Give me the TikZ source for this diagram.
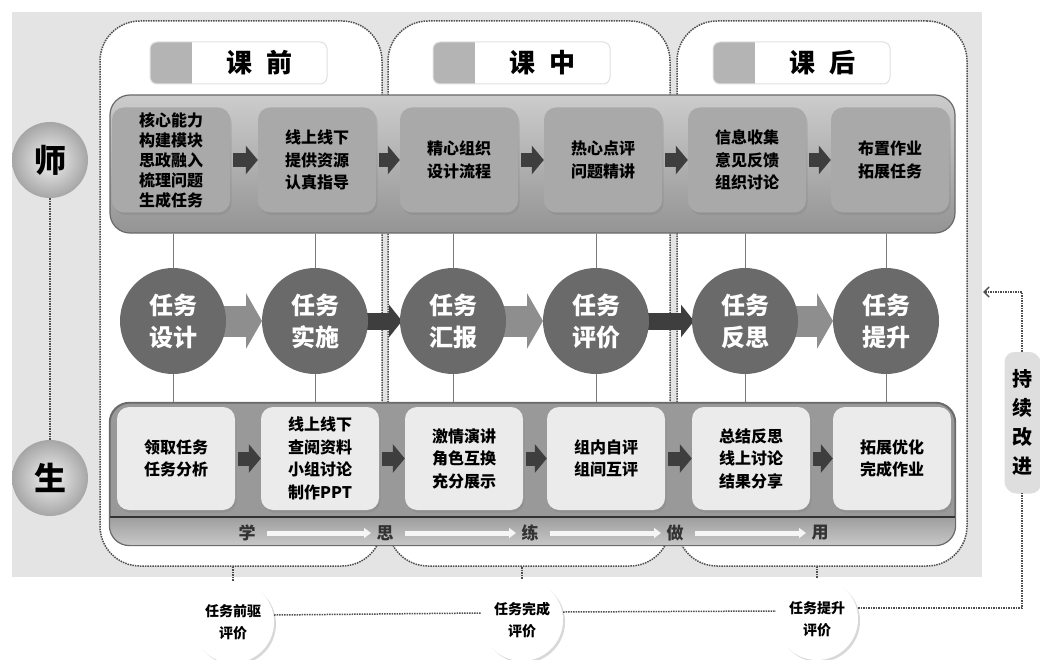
\documentclass[tikz,border=0pt]{standalone}
\usepackage{fontspec}
\setmainfont{Noto Sans CJK SC}
\usetikzlibrary{arrows.meta,shadows}
\definecolor{bg}{HTML}{E4E4E4}
\definecolor{dotc}{HTML}{4E4E4E}
\definecolor{tabgray}{HTML}{B4B4B4}
\definecolor{tboxc}{HTML}{A9A9A9}
\definecolor{sboxc}{HTML}{EBEBEB}
\definecolor{taskcc}{HTML}{6A6A6A}
\definecolor{lightarr}{HTML}{8E8E8E}
\definecolor{darkarr}{HTML}{3E3E3E}
\definecolor{vline}{HTML}{7A7A7A}
\definecolor{bandline}{HTML}{6A6A6A}
\begin{document}
\begin{tikzpicture}[x=1pt,y=-1pt,
  phase/.style={draw=dotc, densely dotted, line width=1.5pt, fill=white, rounded corners=40, inner sep=0},
  tbox/.style={fill=tboxc, rounded corners=12, minimum width=118, minimum height=105, align=center,
    font=\bfseries\fontsize{16}{22.5}\selectfont, inner sep=2pt,
    drop shadow={shadow xshift=1.5pt, shadow yshift=-2.5pt, opacity=.3}},
  sbox/.style={tbox, fill=sboxc, minimum height=103},
  taskc/.style={circle, fill=taskcc, minimum size=106, inner sep=0, text=white, align=center,
    font=\bfseries\fontsize{24}{32}\selectfont},
  rolec/.style={circle, minimum size=76, inner sep=0, shading=radial, inner color=white!95!black, outer color=black!35,
    font=\bfseries\fontsize{32}{36}\selectfont},
  evalc/.style={circle, fill=white, minimum size=82, inner sep=0, align=center,
    font=\bfseries\fontsize{14}{22}\selectfont,
    drop shadow={shadow xshift=2pt, shadow yshift=-2pt, opacity=.3}},
  impc/.style={fill=black!13, rounded corners=10, minimum width=35, minimum height=140, inner sep=0, align=center,
    font=\bfseries\fontsize{20}{29}\selectfont,
    drop shadow={shadow xshift=1.5pt, shadow yshift=-1.5pt, opacity=.25}},
  dotl/.style={draw=dotc, densely dotted, line width=1.5pt},
  barrow/.style={draw=darkarr, line width=14pt, -{Triangle[length=12pt,width=28pt]}, shorten <=3pt},
  larrow/.style={draw=lightarr, line width=31pt, -{Triangle[length=16pt,width=55pt]}},
  darrow/.style={draw=darkarr, line width=17pt, -{Triangle[length=13pt,width=32pt]}},
  warrow/.style={draw=white!96!black, line width=5pt, -{Triangle[length=7pt,width=10pt]}},
  striplab/.style={font=\bfseries\fontsize{17}{20}\selectfont, text=black!80, inner sep=1pt},
  tabtext/.style={font=\bfseries\fontsize{26}{30}\selectfont, inner sep=0}
]
\useasboundingbox (0,0) rectangle (1040,660);
\fill[white] (0,0) rectangle (1040,660);
\fill[bg] (12,12) rectangle (982,577);

% phase frames
\node[phase, minimum width=282, minimum height=545] (pA) at (241,293.5) {};
\node[phase, minimum width=282, minimum height=545] (pB) at (529,293.5) {};
\node[phase, minimum width=290, minimum height=545] (pC) at (822,293.5) {};

% header tabs
\foreach \xa/\xb/\xg/\nm/\txt in {150/327/192/h1/{课\hspace{14pt}前}, 433/610/475/h2/{课\hspace{14pt}中}, 713/890/755/h3/{课\hspace{14pt}后}}{
  \begin{scope}
    \clip[rounded corners=7] (\xa,42) rectangle (\xb,84);
    \fill[white] (\xa,42) rectangle (\xb,84);
    \fill[tabgray] (\xa,42) rectangle (\xg,84);
  \end{scope}
  \draw[black!12, line width=1pt, rounded corners=7] (\xa,42) rectangle (\xb,84);
  \node[tabtext] (\nm) at ({(\xg+\xb)/2},63) {\txt};
}

% teacher band
\node[draw=bandline, line width=1.2pt, rounded corners=20, minimum width=845, minimum height=138, inner sep=0,
  top color=black!20, middle color=black!24, bottom color=black!42] (tb) at (532.5,164) {};
% student band
\node[draw=bandline, line width=1.2pt, rounded corners=20, minimum width=845, minimum height=142, inner sep=0,
  top color=black!40, middle color=black!28, bottom color=black!40] (sb) at (532.5,474) {};
\begin{scope}
  \clip[rounded corners=20] (sb.north west) rectangle (sb.south east);
  \fill[top color=black!38, bottom color=black!22] (110,517) rectangle (955,545);
\end{scope}
\draw[black!80, line width=2.5pt] (110,517) -- (955,517);
\draw[bandline, line width=1.2pt, rounded corners=20] (sb.north west) rectangle (sb.south east);

% teacher boxes
\node[tbox, font=\bfseries\fontsize{16}{20}\selectfont] (t1) at (171,160) {核心能力\\构建模块\\思政融入\\梳理问题\\生成任务};
\node[tbox] (t2) at (317,160) {线上线下\\提供资源\\认真指导};
\node[tbox] (t3) at (459,160) {精心组织\\设计流程};
\node[tbox] (t4) at (603,160) {热心点评\\问题精讲};
\node[tbox] (t5) at (747,160) {信息收集\\意见反馈\\组织讨论};
\node[tbox] (t6) at (890,160) {布置作业\\拓展任务};
\foreach \a/\b in {t1/t2,t2/t3,t3/t4,t4/t5,t5/t6}{\draw[barrow] (\a.east) -- (\b.west);}

% student boxes
\node[sbox] (s1) at (176,458.5) {领取任务\\任务分析};
\node[sbox] (s2) at (320,458.5) {线上线下\\查阅资料\\小组讨论\\制作PPT};
\node[sbox] (s3) at (464,458.5) {激情演讲\\角色互换\\充分展示};
\node[sbox] (s4) at (606,458.5) {组内自评\\组间互评};
\node[sbox] (s5) at (751,458.5) {总结反思\\线上讨论\\结果分享};
\node[sbox] (s6) at (892,458.5) {拓展优化\\完成作业};
\foreach \a/\b in {s1/s2,s2/s3,s3/s4,s4/s5,s5/s6}{\draw[barrow] (\a.east) -- (\b.west);}

% strip labels
\node[striplab] (l1) at (247,533) {学};
\node[striplab] (l2) at (385,533) {思};
\node[striplab] (l3) at (530,533) {练};
\node[striplab] (l4) at (675,533) {做};
\node[striplab] (l5) at (820,533) {用};
\foreach \a/\b in {l1/l2,l2/l3,l3/l4,l4/l5}{\draw[warrow, shorten <=20pt, shorten >=14pt] (\a.center) -- (\b.center);}

% task circles (coordinates first for lines)
\coordinate (k1) at (173,321);
\coordinate (k2) at (315,321);
\coordinate (k3) at (453,321);
\coordinate (k4) at (596,321);
\coordinate (k5) at (745,321);
\coordinate (k6) at (886,321);
\foreach \k in {k1,k2,k3,k4,k5,k6}{\draw[vline, line width=1pt] (\k |- tb.south) -- (\k |- sb.north);}
\draw[larrow] (k1) -- ([xshift=-53pt]k2);
\draw[darrow] (k2) -- ([xshift=-51pt]k3);
\draw[larrow] (k3) -- ([xshift=-53pt]k4);
\draw[darrow] (k4) -- ([xshift=-51pt]k5);
\draw[larrow] (k5) -- ([xshift=-53pt]k6);
\node[taskc] (c1) at (k1) {任务\\设计};
\node[taskc] (c2) at (k2) {任务\\实施};
\node[taskc] (c3) at (k3) {任务\\汇报};
\node[taskc] (c4) at (k4) {任务\\评价};
\node[taskc] (c5) at (k5) {任务\\反思};
\node[taskc] (c6) at (k6) {任务\\提升};

% roles
\node[rolec] (r1) at (50,160) {师};
\node[rolec] (r2) at (50,478) {生};
\draw[dotl] (r1.south) -- (r2.north);

% evaluation circles
\node[evalc] (e1) at (233,622) {任务前驱\\评价};
\node[evalc] (e2) at (522,620) {任务完成\\评价};
\node[evalc] (e3) at (817,619) {任务提升\\评价};
\draw[dotl] (e1.north) -- (e1 |- pA.south);
\draw[dotl] (e2.north) -- (e2 |- pB.south);
\draw[dotl] (e3.north) -- (e3 |- pC.south);
\draw[dotl] ([yshift=7pt]e1.east) -- ([yshift=7pt]e2.west);
\draw[dotl] ([yshift=8pt]e2.east) -- ([yshift=8pt]e3.west);

% continuous improvement
\node[impc] (imp) at (1022,422) {持\\续\\改\\进};
\coordinate (fb) at (983,292);
\draw[dotl] ([yshift=11pt]e3.east) -| (imp.south);
\draw[dotl, -{Straight Barb[length=5pt,width=10pt]}] (imp.north) |- (fb);
\end{tikzpicture}
\end{document}
